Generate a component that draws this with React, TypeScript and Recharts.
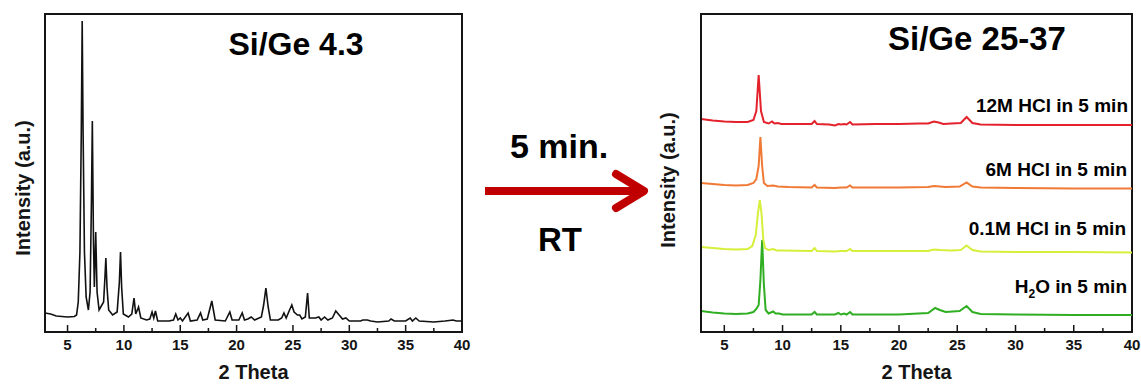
import React from "react";
import { LineChart, Line, XAxis, YAxis, ReferenceArea } from "recharts";

document.body.style.margin = "0";

const FONT = '"Liberation Sans", Arial, Helvetica, sans-serif';
const INK = "#151515";

// 2 theta ticks (major every 5 deg, minor in between)
const thetaTicks = [5, 7.5, 10, 12.5, 15, 17.5, 20, 22.5, 25, 27.5, 30, 32.5, 35, 37.5, 40];

// Si/Ge 4.3 as-made pattern: [2theta, intensity]
const asMade: [number, number][] = [
  [3.0, 19], [3.5, 18], [4.0, 16], [5.0, 15], [5.6, 15.5], [5.8, 17], [5.95, 30], [6.1, 80],
  [6.22, 200], [6.3, 311], [6.38, 200], [6.5, 80], [6.65, 35], [6.85, 22], [7.0, 40], [7.12, 130],
  [7.2, 211], [7.3, 90], [7.38, 45], [7.5, 100], [7.62, 40], [7.8, 22], [8.2, 30], [8.32, 55],
  [8.4, 74], [8.5, 45], [8.65, 22], [9.0, 17], [9.4, 20], [9.6, 50], [9.7, 80], [9.8, 45],
  [9.95, 18], [10.4, 15], [10.7, 18], [10.9, 34], [11.05, 18], [11.3, 25], [11.5, 14], [12.0, 12],
  [12.3, 13], [12.5, 20], [12.65, 14], [12.8, 21], [13.0, 11], [14.0, 11], [14.4, 12], [14.6, 18],
  [14.8, 12], [15.0, 14], [15.2, 11], [15.7, 19], [15.9, 11], [16.5, 12], [16.8, 19], [17.0, 12],
  [17.4, 13], [17.8, 31], [18.1, 12], [19.0, 11], [19.4, 20], [19.6, 12], [20.2, 12], [20.5, 19],
  [20.7, 12], [21.0, 13], [21.3, 15], [21.6, 12], [22.2, 15], [22.4, 27], [22.6, 44], [22.8, 25],
  [23.0, 12], [23.7, 12], [24.0, 14], [24.2, 19], [24.4, 14], [24.7, 22], [24.9, 27], [25.1, 20],
  [25.4, 17], [25.6, 17], [25.8, 13], [26.1, 15], [26.3, 39], [26.45, 14], [27.0, 14], [27.3, 15],
  [27.5, 12], [27.8, 15], [28.1, 12], [28.5, 14], [28.8, 21], [29.1, 17], [29.4, 13], [29.7, 14],
  [30.0, 11], [31.0, 11], [31.2, 12], [31.6, 12], [31.9, 11], [32.5, 10], [33.5, 11], [33.7, 13],
  [34.0, 11], [35.0, 11], [35.4, 14], [35.6, 11], [35.9, 14], [36.2, 11], [37.5, 10], [38.5, 11],
  [39.2, 12], [39.5, 11], [40.0, 11],
];

// Si/Ge 25-37 after 5 min treatments
const h2o: [number, number][] = [
  [3.0, 4], [4.0, 2.5], [5.0, 1.5], [6.0, 1], [7.0, 1.5], [7.5, 3], [7.75, 6], [7.95, 10],
  [8.1, 35], [8.25, 75], [8.4, 30], [8.55, 5], [8.8, 1.5], [9.2, 3.5], [9.4, 1.5], [9.7, 1.5],
  [10.0, 0.5], [12.5, 0.5], [12.75, 3], [12.95, 0.5], [14.5, 0.5], [14.8, 2], [15.0, 0.5],
  [15.3, 1.5], [15.5, 0.5], [15.8, 3], [16.0, 0.5], [18.0, 0.5], [20.0, 0.5], [22.5, 2],
  [23.1, 7], [23.5, 5], [24.0, 3], [25.2, 4], [25.8, 9], [26.3, 3], [27.0, 1], [30.0, 0.5],
  [35.0, 0], [40.0, 0],
];
const hcl01: [number, number][] = [
  [3.0, 5], [4.0, 4], [5.0, 3], [6.0, 2.5], [7.0, 3], [7.4, 6], [7.7, 17], [7.9, 40],
  [8.05, 52], [8.2, 38], [8.35, 12], [8.5, 4], [8.8, 2], [9.2, 3], [9.5, 1.5], [10.0, 1.5],
  [12.5, 1], [12.75, 4], [12.95, 1], [14.5, 0.5], [15.0, 1], [15.5, 1], [15.8, 3], [16.0, 1],
  [18.0, 1], [20.0, 1], [22.5, 1], [23.0, 2.5], [23.5, 2], [24.5, 1.5], [25.3, 2], [25.8, 6.5],
  [26.3, 2], [27.0, 0.5], [30.0, 0], [35.0, 0], [40.0, -0.5],
];
const hcl6: [number, number][] = [
  [3.0, 5], [4.0, 4], [5.0, 3], [6.0, 2.5], [7.0, 3], [7.5, 5], [7.75, 9], [7.95, 22],
  [8.1, 51], [8.25, 22], [8.4, 5], [8.7, 2], [9.2, 2.5], [9.6, 1.5], [10.5, 1], [12.5, 0.5],
  [12.75, 3], [12.95, 0.5], [14.5, 0], [15.0, 0.5], [15.5, 0.5], [15.8, 2.5], [16.0, 0.5],
  [18.0, 0.5], [20.0, 0.5], [22.5, 1], [23.0, 2], [23.5, 1.5], [24.0, 1], [25.2, 1.5],
  [25.8, 5.5], [26.3, 1.5], [27.0, 0.5], [30.0, 0], [35.0, -0.5], [40.0, -0.5],
];
const hcl12: [number, number][] = [
  [3.0, 6], [4.0, 4.5], [5.0, 3.5], [6.0, 3], [7.0, 3], [7.5, 5], [7.75, 14], [7.95, 50],
  [8.15, 14], [8.4, 3], [8.8, 1.5], [9.1, 3.5], [9.3, 1.5], [9.6, 2], [9.9, 1], [11.0, 1],
  [12.5, 1], [12.75, 4], [12.95, 1], [14.0, 0.5], [14.5, -0.5], [14.8, 1], [15.0, 0.5],
  [15.3, 1], [15.5, 0.5], [15.8, 3], [16.0, 0.5], [18.0, 1], [20.0, 1], [21.7, 1.5],
  [22.5, 1.5], [23.0, 3.5], [23.4, 2.5], [23.8, 1], [24.5, 1.5], [25.3, 2], [25.8, 8],
  [26.3, 2], [27.0, 0.5], [30.0, 0], [35.0, 0], [40.0, 0],
];

const traceNames = ["H2O in 5 min", "0.1M HCl in 5 min", "6M HCl in 5 min", "12M HCl in 5 min"];
const traceColors = ["#2fae22", "#d6ef3a", "#f07a35", "#e3222c"];
const traceOffsets = [17, 80, 144, 207];
const traces = [h2o, hcl01, hcl6, hcl12];

const toRows = (pts: [number, number][], off = 0) => pts.map(([x, y]) => ({ x, y: y + off }));

const ThetaTick = (props: any) => {
  const { x, y, payload } = props;
  const v = payload.value;
  const major = v % 5 === 0;
  return (
    <g>
      <line x1={x} x2={x} y1={y} y2={y - (major ? 7 : 4)} stroke={INK} strokeWidth={1.5} />
      {major && (
        <text x={x} y={y + 18} textAnchor="middle" fontFamily={FONT} fontWeight="bold" fontSize={15} fill={INK}>
          {v}
        </text>
      )}
    </g>
  );
};

const YTitle = ({ cx, cy }: { cx: number; cy: number }) => (
  <text
    x={cx}
    y={cy}
    transform={`rotate(-90 ${cx} ${cy})`}
    textAnchor="middle"
    dominantBaseline="central"
    fontFamily={FONT}
    fontWeight="bold"
    fontSize={20}
    fill={INK}
  >
    Intensity (a.u.)
  </text>
);

function Panel({ width, yAxisWidth, yTitle, children }: any) {
  return (
    <LineChart width={width} height={385} margin={{ top: 14, right: 9, bottom: 0, left: 0 }}>
      <XAxis
        type="number"
        dataKey="x"
        domain={[3, 40]}
        ticks={thetaTicks}
        interval={0}
        allowDataOverflow
        tick={<ThetaTick />}
        tickLine={false}
        tickSize={0}
        tickMargin={0}
        height={53}
        axisLine={{ stroke: INK, strokeWidth: 2 }}
        label={{ value: "2 Theta", position: "insideBottom", offset: 6, fontFamily: FONT, fontWeight: "bold", fontSize: 20, fill: INK }}
      />
      <YAxis
        type="number"
        domain={[0, 318]}
        allowDataOverflow
        width={yAxisWidth}
        tick={false}
        tickLine={false}
        axisLine={{ stroke: INK, strokeWidth: 2 }}
        label={<YTitle cx={yTitle[0]} cy={yTitle[1]} />}
      />
      <ReferenceArea x1={3} x2={40} y1={0} y2={318} fill="none" stroke={INK} strokeWidth={2} />
      {children}
    </LineChart>
  );
}

export default function App() {
  return (
    <div style={{ position: "relative", width: 1141, height: 385, background: "#fff", overflow: "hidden" }}>
      <div style={{ position: "absolute", left: 0, top: 0 }}>
        <Panel width={471} yAxisWidth={45} yTitle={[23, 188]}>
          <Line
            data={toRows(asMade)}
            dataKey="y"
            type="linear"
            dot={false}
            stroke="#111"
            strokeWidth={1.6}
            isAnimationActive={false}
          />
        </Panel>
      </div>
      <div style={{ position: "absolute", left: 650, top: 0 }}>
        <Panel width={491} yAxisWidth={51} yTitle={[18, 180]}>
          {traces.map((t, i) => (
            <Line
              key={traceNames[i]}
              data={toRows(t, traceOffsets[i])}
              dataKey="y"
              name={traceNames[i]}
              type="linear"
              dot={false}
              stroke={traceColors[i]}
              strokeWidth={2}
              isAnimationActive={false}
            />
          ))}
        </Panel>
      </div>
      <svg width={1141} height={385} style={{ position: "absolute", left: 0, top: 0, pointerEvents: "none" }}>
        <g fontFamily={FONT} fontWeight="bold" fill="#000">
          <text x={296} y={55} fontSize={32} textAnchor="middle">Si/Ge 4.3</text>
          <text x={977} y={50} fontSize={33} textAnchor="middle">Si/Ge 25-37</text>
          <text x={559} y={158} fontSize={34} textAnchor="middle">5 min.</text>
          <text x={560} y={251} fontSize={33} textAnchor="middle">RT</text>
          <text x={1128} y={112} fontSize={19} textAnchor="end">12M HCl in 5 min</text>
          <text x={1127} y={176} fontSize={19} textAnchor="end">6M HCl in 5 min</text>
          <text x={1126} y={235} fontSize={19} textAnchor="end">0.1M HCl in 5 min</text>
          <text x={1127} y={293} fontSize={19} textAnchor="end">
            H<tspan fontSize={12} dy={5}>2</tspan><tspan dy={-5}>O in 5 min</tspan>
          </text>
        </g>
        <line x1={485} y1={191} x2={640} y2={191} stroke="#c00000" strokeWidth={8} />
        <polyline points="616,174 644,191 616,208" fill="none" stroke="#c00000" strokeWidth={8} strokeLinecap="round" strokeLinejoin="round" />
      </svg>
    </div>
  );
}
